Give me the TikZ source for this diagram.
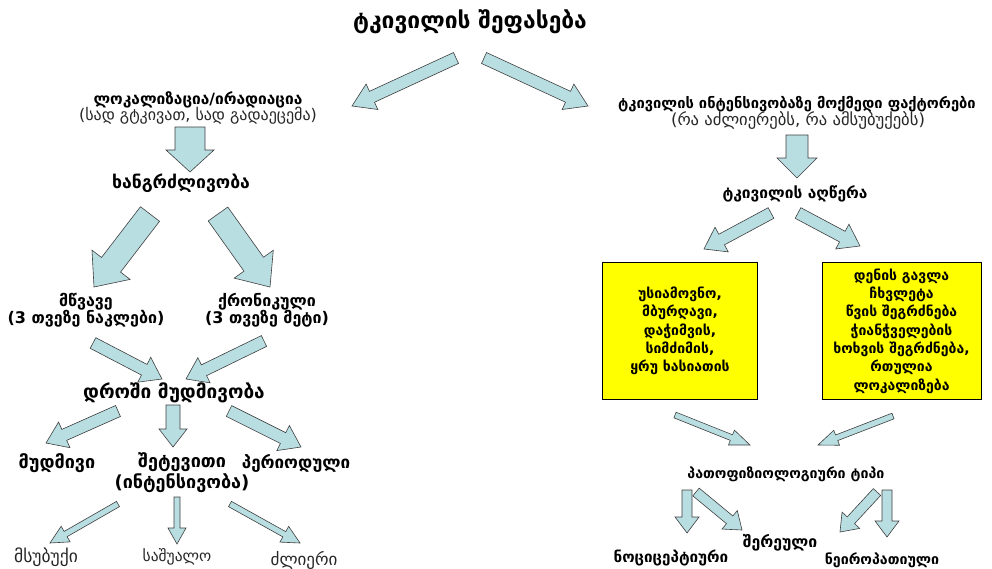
\documentclass[tikz,border=0pt]{standalone}
\usepackage{fontspec}
\setmainfont{DejaVu Sans}
\usetikzlibrary{calc}
\definecolor{arrfill}{HTML}{B9DEE2}
\definecolor{arrline}{HTML}{3F3F3F}
\definecolor{boxyellow}{HTML}{FFFF00}
\newcommand\blockarrowdraw[5]{%
  \coordinate (tmpC) at ($(#2)!#5!(#1)$);
  \draw[blockarr] ($(#1)!#3!90:(#2)$) -- ($(tmpC)!#3!90:(#2)$) -- ($(tmpC)!#4!90:(#2)$) -- (#2)
    -- ($(tmpC)!#4!-90:(#2)$) -- ($(tmpC)!#3!-90:(#2)$) -- ($(#1)!#3!-90:(#2)$) -- cycle;}
\begin{document}
\begin{tikzpicture}[x=1pt,y=-1pt,
  blockarr/.style={fill=arrfill,draw=arrline,line width=0.6pt,line join=miter},
  lbl/.style={font=\bfseries\fontsize{#1}{18}\selectfont,align=center,inner sep=0pt},
  lbl/.default=15,
  sub/.style={font=\fontsize{#1}{18}\selectfont,align=center,inner sep=0pt,text=black!85},
  sub/.default=16,
  ybox/.style={draw=black,fill=boxyellow,line width=0.8pt,minimum width=155pt,minimum height=137pt,inner sep=0pt,align=center,font=\bfseries\fontsize{14}{18.3}\selectfont}]
\useasboundingbox (0,0) rectangle (992,568);
\fill[white] (0,0) rectangle (992,568);

% title
\node[lbl=22.8] (title) at (470,22) {ტკივილის შეფასება};

% left branch
\node[lbl=15.5] (loc) at (198,100) {ლოკალიზაცია/ირადიაცია};
\node[sub=16] (locsub) at (198,116) {(სად გტკივათ, სად გადაეცემა)};
\node[lbl=17.6] (dur) at (181,183) {ხანგრძლივობა};
\node[lbl=16,font=\bfseries\fontsize{16}{17.5}\selectfont] (acute) at (86,310) {მწვავე\\(3 თვეზე ნაკლები)};
\node[lbl=16,font=\bfseries\fontsize{16}{17.5}\selectfont] (chron) at (267,310) {ქრონიკული\\(3 თვეზე მეტი)};
\node[lbl=19] (time) at (174,393) {დროში მუდმივობა};
\node[lbl=18] (const) at (57,463) {მუდმივი};
\node[lbl=18,font=\bfseries\fontsize{18}{21}\selectfont] (attack) at (182,473) {შეტევითი\\(ინტენსივობა)};
\node[lbl=17] (period) at (296,463) {პერიოდული};
\node[sub=17.5] (mild) at (46,557) {მსუბუქი};
\node[sub=15.5] (mid) at (177,557) {საშუალო};
\node[sub=17] (strong) at (304,560) {ძლიერი};

% right branch
\node[lbl=14.7] (fac) at (797,104) {ტკივილის ინტენსივობაზე მოქმედი ფაქტორები};
\node[sub=16.6] (facsub) at (798,121) {(რა აძლიერებს, რა ამსუბუქებს)};
\node[lbl=15.5] (desc) at (795,194) {ტკივილის აღწერა};
\node[ybox] (box1) at (680,331) {უსიამოვნო,\\მბურღავი,\\დაჭიმვის,\\სიმძიმის,\\ყრუ ხასიათის};
\node[ybox,minimum width=159pt] (box2) at (901.5,331) {დენის გავლა\\ჩხვლეტა\\წვის შეგრძნება\\ჭიანჭველების\\ხოხვის შეგრძნება,\\რთულია\\ლოკალიზება};
\node[lbl=14.2] (patho) at (786,474) {პათოფიზიოლოგიური ტიპი};
\node[lbl=15.8] (mixed) at (780,543) {შერეული};
\node[lbl=15.2] (noci) at (671,558) {ნოციცეპტიური};
\node[lbl=14.2] (neuro) at (882,560) {ნეიროპათიული};

% arrow end points
\coordinate (t1s) at (456,58);   \coordinate (t1e) at (352,106);
\coordinate (t2s) at (484,58);   \coordinate (t2e) at (588,106);
\coordinate (l1s) at (190,127);  \coordinate (l1e) at (190,172);
\coordinate (d1s) at (150,214);  \coordinate (d1e) at (94,287);
\coordinate (d2s) at (218,214);  \coordinate (d2e) at (270,287);
\coordinate (a1s) at (93,343);   \coordinate (a1e) at (162,379);
\coordinate (a2s) at (264,341);  \coordinate (a2e) at (186,379);
\coordinate (m1s) at (118,411);  \coordinate (m1e) at (46,443);
\coordinate (m2s) at (173,405);  \coordinate (m2e) at (173,447);
\coordinate (m3s) at (229,411);  \coordinate (m3e) at (301,447);
\coordinate (i1s) at (118,504);  \coordinate (i1e) at (50,543);
\coordinate (i2s) at (177,497);  \coordinate (i2e) at (177,544);
\coordinate (i3s) at (230,504);  \coordinate (i3e) at (300,543);
\coordinate (f1s) at (797,135);  \coordinate (f1e) at (797,178);
\coordinate (e1s) at (771,213);  \coordinate (e1e) at (704,249);
\coordinate (e2s) at (798,213);  \coordinate (e2e) at (860,246);
\coordinate (b1s) at (675,415);  \coordinate (b1e) at (750,445);
\coordinate (b2s) at (893,416);  \coordinate (b2e) at (818,445);
\coordinate (p1s) at (687,490);  \coordinate (p1e) at (687,533);
\coordinate (p2s) at (696,492);  \coordinate (p2e) at (742,530);
\coordinate (p3s) at (877,492);  \coordinate (p3e) at (840,532);
\coordinate (p4s) at (887,490);  \coordinate (p4e) at (887,537);

% block arrows
\blockarrowdraw{t1s}{t1e}{6pt}{14pt}{22pt}
\blockarrowdraw{t2s}{t2e}{6pt}{14pt}{22pt}
\blockarrowdraw{l1s}{l1e}{15pt}{24pt}{22pt}
\blockarrowdraw{d1s}{d1e}{12pt}{24pt}{28pt}
\blockarrowdraw{d2s}{d2e}{12pt}{24pt}{28pt}
\blockarrowdraw{a1s}{a1e}{6pt}{14pt}{20pt}
\blockarrowdraw{a2s}{a2e}{6pt}{14pt}{20pt}
\blockarrowdraw{m1s}{m1e}{6pt}{14pt}{20pt}
\blockarrowdraw{m2s}{m2e}{7pt}{14pt}{18pt}
\blockarrowdraw{m3s}{m3e}{6pt}{14pt}{20pt}
\blockarrowdraw{i1s}{i1e}{3pt}{9pt}{18pt}
\blockarrowdraw{i2s}{i2e}{3pt}{9pt}{16pt}
\blockarrowdraw{i3s}{i3e}{3pt}{9pt}{18pt}
\blockarrowdraw{f1s}{f1e}{11pt}{20pt}{20pt}
\blockarrowdraw{e1s}{e1e}{6pt}{14pt}{20pt}
\blockarrowdraw{e2s}{e2e}{6pt}{14pt}{20pt}
\blockarrowdraw{b1s}{b1e}{3pt}{8pt}{20pt}
\blockarrowdraw{b2s}{b2e}{3pt}{8pt}{20pt}
\blockarrowdraw{p1s}{p1e}{5pt}{12pt}{16pt}
\blockarrowdraw{p2s}{p2e}{5pt}{12pt}{16pt}
\blockarrowdraw{p3s}{p3e}{5pt}{12pt}{16pt}
\blockarrowdraw{p4s}{p4e}{5pt}{12pt}{16pt}
\end{tikzpicture}
\end{document}
